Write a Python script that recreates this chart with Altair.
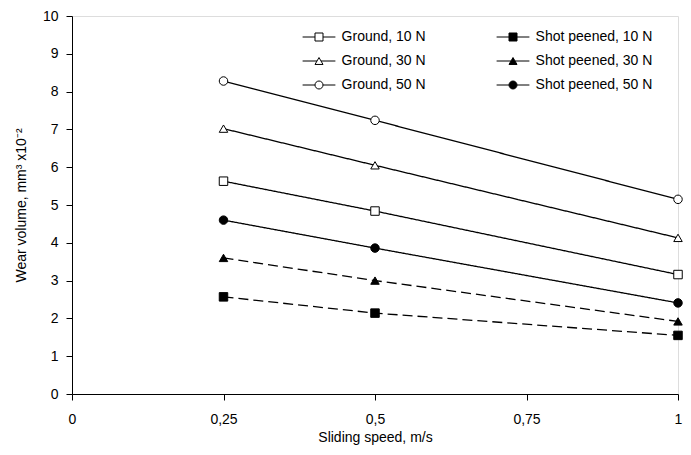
import altair as alt
import pandas as pd

# ---- data ----
speed = [0.25, 0.5, 1.0]
series_names = ["Ground, 10 N", "Ground, 30 N", "Ground, 50 N",
                "Shot peened, 10 N", "Shot peened, 30 N", "Shot peened, 50 N"]
ground_10 = [5.63, 4.84, 3.16]
ground_30 = [7.02, 6.05, 4.13]
ground_50 = [8.28, 7.24, 5.15]
shot_10 = [2.57, 2.14, 1.55]
shot_30 = [3.60, 3.00, 1.92]
shot_50 = [4.60, 3.86, 2.41]
x_ticks = [0, 0.25, 0.5, 0.75, 1]
y_ticks = list(range(0, 11))

series_values = [ground_10, ground_30, ground_50, shot_10, shot_30, shot_50]
rows = []
for name, vals in zip(series_names, series_values):
    for s, v in zip(speed, vals):
        rows.append({"speed": s, "volume": v, "series": name})
df = pd.DataFrame(rows)

# ---- styles ----
marker_shapes = ["square", "triangle-up", "circle", "square", "triangle-up", "circle"]
marker_fills = ["white", "white", "white", "black", "black", "black"]
marker_strokes = ["black"] * 6
dashes = [[1, 0], [1, 0], [1, 0], [10, 5], [10, 5], [1, 0]]
L = 4.1
sq = f"M-{L},0H-1M1,0H{L}M-1,-1H1V1H-1Z"
tri = f"M-{L},0H-0.5M0.5,0H{L}M0,-0.866L-1,0.866L1,0.866Z"
cir = f"M-{L},0H-1M1,0H{L}M1,0A1,1,0,1,1,-1,0A1,1,0,1,1,1,0Z"
legend_paths = [sq, tri, cir, sq, tri, cir]

FONT = "Liberation Sans"

x_enc = alt.X("speed:Q",
              scale=alt.Scale(domain=[0, 1], nice=False, zero=True),
              axis=alt.Axis(values=x_ticks, title="Sliding speed, m/s",
                            labelExpr="replace(toString(datum.value), '.', ',')",
                            grid=False, tickSize=6, labelPadding=12, titlePadding=4,
                            domainColor="black", tickColor="black",
                            labelColor="black", titleColor="black",
                            labelFont=FONT, titleFont=FONT,
                            labelFontSize=14, titleFontSize=14,
                            titleFontWeight="normal", labelFlush=False))
y_enc = alt.Y("volume:Q",
              scale=alt.Scale(domain=[0, 10], nice=False),
              axis=alt.Axis(values=y_ticks, title="Wear volume, mm³ x10⁻²",
                            grid=False, tickSize=6, labelPadding=8, titlePadding=14,
                            domainColor="black", tickColor="black",
                            labelColor="black", titleColor="black",
                            labelFont=FONT, titleFont=FONT,
                            labelFontSize=14, titleFontSize=14,
                            titleFontWeight="normal"))

base = alt.Chart(df)

lines = base.mark_line(color="black", strokeWidth=1.3).encode(
    x=x_enc, y=y_enc,
    detail="series:N",
    strokeDash=alt.StrokeDash("series:N",
                              scale=alt.Scale(domain=series_names, range=dashes),
                              legend=None),
)

points = base.mark_point(filled=True, stroke="black", strokeWidth=1, size=72, opacity=1).encode(
    x=x_enc, y=y_enc,
    shape=alt.Shape("series:N", scale=alt.Scale(domain=series_names, range=marker_shapes), legend=None),
    fill=alt.Fill("series:N", scale=alt.Scale(domain=series_names, range=marker_fills), legend=None),
)

leg = alt.Legend(title=None, orient="none", legendX=240, legendY=14, columns=2,
                 columnPadding=68, rowPadding=10, labelOffset=15.6,
                 labelFont=FONT, labelFontSize=14, labelColor="black",
                 symbolSize=64, symbolStrokeWidth=1,
                 symbolOpacity=1, padding=0)

legend_layer = base.mark_point(filled=False, strokeWidth=1, size=64, opacity=0).encode(
    x=x_enc, y=y_enc,
    shape=alt.Shape("series:N", scale=alt.Scale(domain=series_names, range=legend_paths), legend=leg),
    fill=alt.Fill("series:N", scale=alt.Scale(domain=series_names, range=marker_fills), legend=leg),
    stroke=alt.Stroke("series:N", scale=alt.Scale(domain=series_names, range=marker_strokes), legend=leg),
)

chart = alt.layer(lines, points, legend_layer).resolve_scale(
    shape="independent", fill="independent", strokeDash="independent", stroke="independent"
).properties(
    width=606, height=378,
    autosize=alt.AutoSizeParams(type="none"),
    padding={"left": 64, "top": 8, "right": 5, "bottom": 53},
).configure_view(stroke="black", strokeWidth=1).configure(background="white")

chart.save("out.html", embed_options={"renderer": "svg", "actions": False})
